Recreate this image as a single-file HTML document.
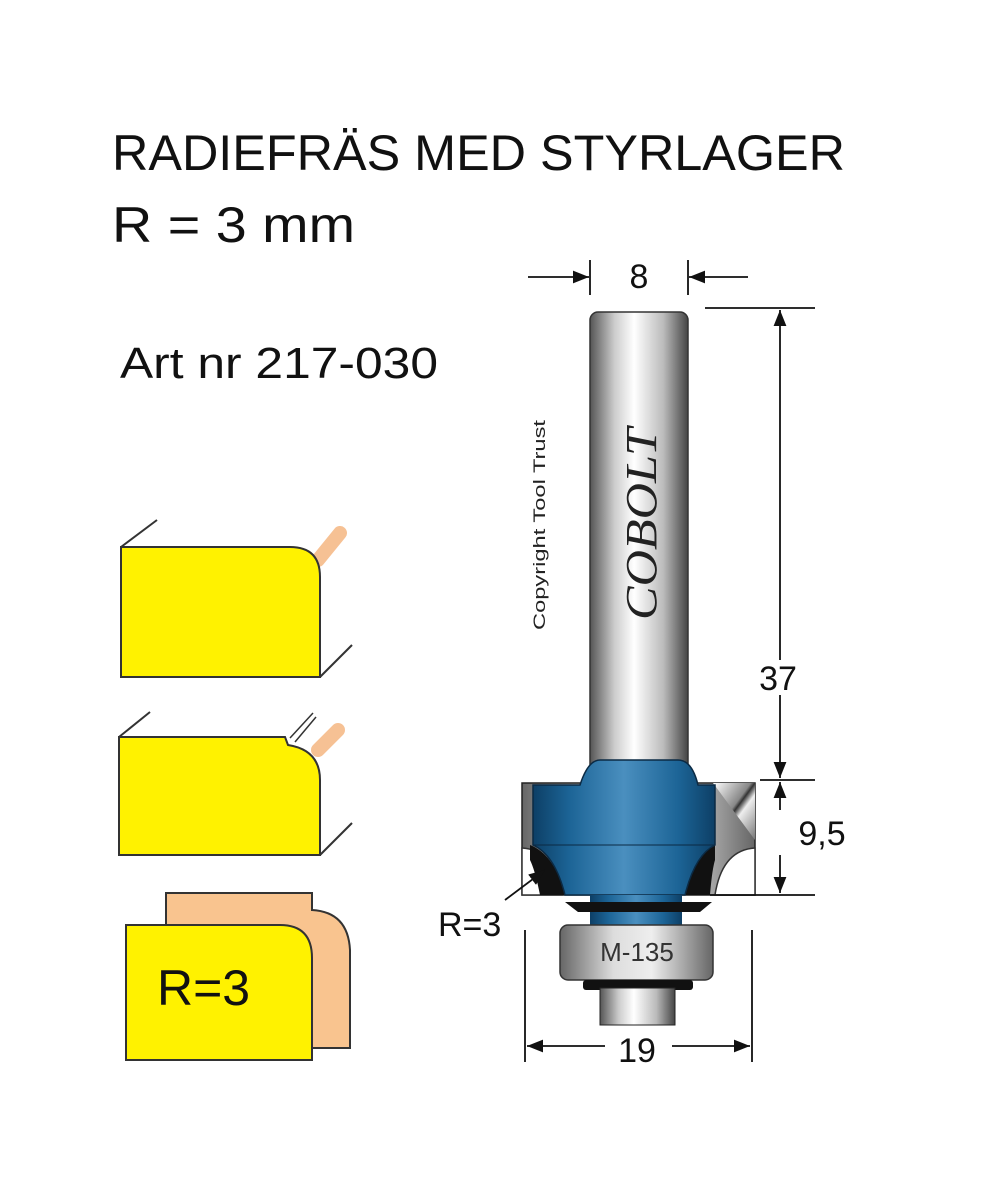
<!DOCTYPE html>
<html><head><meta charset="utf-8"><style>body{margin:0;background:#fff}svg{display:block}</style></head>
<body>
<svg width="982" height="1200" viewBox="0 0 982 1200" xmlns="http://www.w3.org/2000/svg">
<defs>
<linearGradient id="sh" x1="0" x2="1"><stop offset="0" stop-color="#555"/><stop offset="0.25" stop-color="#ccc"/><stop offset="0.45" stop-color="#fff"/><stop offset="0.75" stop-color="#bbb"/><stop offset="1" stop-color="#444"/></linearGradient>
<linearGradient id="bl" x1="0" x2="1"><stop offset="0" stop-color="#0d3f66"/><stop offset="0.2" stop-color="#1c6496"/><stop offset="0.5" stop-color="#4a8fbf"/><stop offset="0.8" stop-color="#1c6496"/><stop offset="1" stop-color="#0d3f66"/></linearGradient>
<linearGradient id="br" x1="0" x2="1"><stop offset="0" stop-color="#666"/><stop offset="0.35" stop-color="#ddd"/><stop offset="0.6" stop-color="#eee"/><stop offset="1" stop-color="#666"/></linearGradient>
<linearGradient id="wg" x1="0" y1="0" x2="1" y2="1"><stop offset="0" stop-color="#fff"/><stop offset="0.45" stop-color="#888"/><stop offset="0.5" stop-color="#333"/><stop offset="0.6" stop-color="#eee"/><stop offset="1" stop-color="#777"/></linearGradient>
<marker id="ar" viewBox="0 0 10 10" refX="10" refY="5" markerWidth="9" markerHeight="9" orient="auto-start-reverse"><path d="M0,1 L10,5 L0,9 z" fill="#111"/></marker>
</defs>
<g font-family="Liberation Sans, sans-serif" fill="#111">
<text x="112" y="170" font-size="50" textLength="733" lengthAdjust="spacingAndGlyphs">RADIEFRÄS MED STYRLAGER</text>
<text x="112" y="242" font-size="50" textLength="243" lengthAdjust="spacingAndGlyphs">R = 3 mm</text>
<text x="120" y="378" font-size="44" textLength="318" lengthAdjust="spacingAndGlyphs">Art nr 217-030</text>
</g>
<g stroke="#333" stroke-width="2">
<line x1="121" y1="547" x2="157" y2="520"/><line x1="320" y1="677" x2="352" y2="645"/>
<line x1="318" y1="560" x2="340" y2="533" stroke="#f5b27a" stroke-width="14" stroke-linecap="round" opacity="0.8"/>
<path d="M121,547 H290 Q320,547 320,577 V677 H121 Z" fill="#fff200"/>
<line x1="119" y1="737" x2="150" y2="712"/><line x1="320" y1="855" x2="352" y2="823"/>
<line x1="318" y1="750" x2="338" y2="730" stroke="#f5b27a" stroke-width="14" stroke-linecap="round" opacity="0.8"/>
<line x1="290" y1="738" x2="313" y2="713" stroke-width="1.5"/><line x1="295" y1="742" x2="316" y2="717" stroke-width="1.5"/>
<path d="M119,737 H285 L288,745 Q320,750 320,780 V855 H119 Z" fill="#fff200"/>
<path d="M166,1038 V893 H312 V910 Q348,912 350,950 V1048 H312" fill="#f9c48f"/>
<path d="M126,925 H280 Q312,925 312,958 V1060 H126 Z" fill="#fff200"/>
</g>
<text x="157" y="1005" font-family="Liberation Sans, sans-serif" font-size="50" fill="#111">R=3</text>
<rect x="590" y="312" width="98" height="480" rx="8" fill="url(#sh)" stroke="#333" stroke-width="1.5"/>
<path d="M522,783 H755 V895 H522 Z" fill="url(#br)" stroke="#222" stroke-width="1.5"/>
<path d="M713,783 H755 V840 Z" fill="url(#wg)"/>
<path d="M522,848 Q555,850 562,895 H522 Z" fill="#fff" stroke="#333" stroke-width="1.5"/>
<path d="M755,848 Q722,850 715,895 H755 Z" fill="#fff" stroke="#333" stroke-width="1.5"/>
<path d="M530,845 Q555,855 565,895 H540 Q535,870 530,860 Z" fill="#111"/>
<path d="M715,845 Q695,855 685,895 H710 Q712,870 715,860 Z" fill="#111"/>
<path d="M580,785 Q588,760 600,760 H678 Q692,760 698,785 H715 V845 Q695,855 685,895 H565 Q555,855 533,845 V785 Z" fill="url(#bl)" stroke="#0b2a44" stroke-width="1.5"/>
<line x1="533" y1="845" x2="715" y2="845" stroke="#0b2a44" stroke-width="1"/>
<rect x="590" y="895" width="92" height="30" fill="url(#bl)"/>
<path d="M565,902 H712 L700,912 H578 Z" fill="#111"/>
<rect x="560" y="925" width="153" height="55" rx="8" fill="url(#br)" stroke="#333" stroke-width="1.5"/>
<text x="637" y="961" text-anchor="middle" font-family="Liberation Sans, sans-serif" font-size="26" fill="#333">M-135</text>
<rect x="583" y="980" width="110" height="10" rx="3" fill="#111"/>
<rect x="600" y="988" width="75" height="37" fill="url(#sh)" stroke="#222"/>
<text transform="translate(545,630) rotate(-90)" font-family="Liberation Sans, sans-serif" font-size="17" fill="#222" textLength="210" lengthAdjust="spacingAndGlyphs">Copyright Tool Trust</text>
<text transform="translate(656,620) rotate(-90)" font-family="Liberation Serif, serif" font-style="italic" font-size="44" fill="#222" textLength="192" lengthAdjust="spacingAndGlyphs">COBOLT</text>
<g stroke="#111" stroke-width="1.8" fill="none">
<line x1="590" y1="260" x2="590" y2="295"/><line x1="688" y1="260" x2="688" y2="295"/>
<line x1="528" y1="277" x2="589" y2="277" marker-end="url(#ar)"/>
<line x1="748" y1="277" x2="689" y2="277" marker-end="url(#ar)"/>
<line x1="705" y1="308" x2="815" y2="308"/><line x1="760" y1="780" x2="815" y2="780"/><line x1="710" y1="895" x2="815" y2="895"/>
<line x1="780" y1="660" x2="780" y2="310" marker-end="url(#ar)"/><line x1="780" y1="695" x2="780" y2="778" marker-end="url(#ar)"/>
<line x1="780" y1="810" x2="780" y2="782" marker-end="url(#ar)"/><line x1="780" y1="855" x2="780" y2="893" marker-end="url(#ar)"/>
<line x1="525" y1="930" x2="525" y2="1062"/><line x1="752" y1="930" x2="752" y2="1062"/>
<line x1="605" y1="1046" x2="527" y2="1046" marker-end="url(#ar)"/><line x1="672" y1="1046" x2="750" y2="1046" marker-end="url(#ar)"/>
<line x1="505" y1="900" x2="545" y2="870" marker-end="url(#ar)"/>
</g>
<g font-family="Liberation Sans, sans-serif" font-size="34" fill="#111">
<text x="639" y="288" text-anchor="middle">8</text>
<text x="778" y="690" text-anchor="middle">37</text>
<text x="822" y="845" text-anchor="middle">9,5</text>
<text x="637" y="1062" text-anchor="middle">19</text>
<text x="438" y="936">R=3</text>
</g>
</svg>
</body></html>
